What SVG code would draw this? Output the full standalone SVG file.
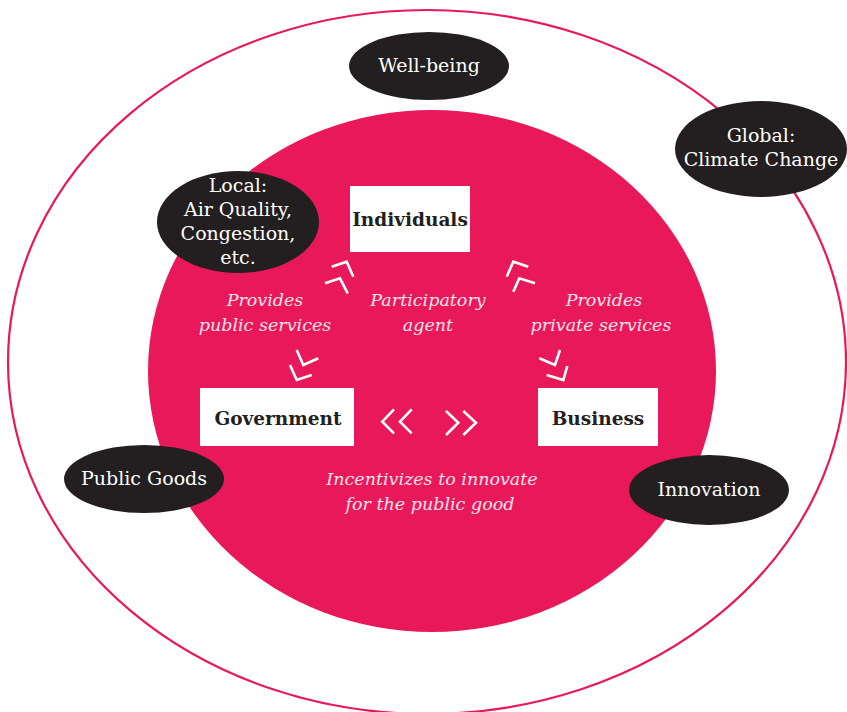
<svg xmlns="http://www.w3.org/2000/svg" width="847" height="712" viewBox="0 0 847 712">
<style>
.blob{fill:#231F20}
.bt{font-family:"DejaVu Serif","Liberation Serif",serif;font-size:19px;fill:#ffffff;text-anchor:middle}
.box{fill:#ffffff}
.bx{font-family:"DejaVu Serif","Liberation Serif",serif;font-size:18.5px;font-weight:bold;fill:#231F20;text-anchor:middle}
.it{font-family:"DejaVu Serif","Liberation Serif",serif;font-size:17.5px;font-style:italic;fill:#fde3ec;text-anchor:middle}
.chev{fill:none;stroke:#ffffff;stroke-width:2.6}
</style>
<rect width="847" height="712" fill="#ffffff"/>
<ellipse cx="427" cy="362" rx="419" ry="352" fill="none" stroke="#E8185A" stroke-width="2.2"/>
<ellipse cx="432" cy="371" rx="284" ry="261" fill="#E8185A"/>

<g id="well-being"><ellipse class="blob" cx="429" cy="66" rx="80" ry="34"/><text class="bt" x="429" y="72">Well-being</text></g>
<g id="global"><ellipse class="blob" cx="761" cy="149" rx="86" ry="48"/><text class="bt" x="761" y="142">Global:</text><text class="bt" x="761" y="166">Climate Change</text></g>
<g id="local"><ellipse class="blob" cx="238" cy="222" rx="81" ry="51"/><text class="bt" x="238" y="192">Local:</text><text class="bt" x="238" y="216">Air Quality,</text><text class="bt" x="238" y="240">Congestion,</text><text class="bt" x="238" y="264">etc.</text></g>
<g id="public-goods"><ellipse class="blob" cx="144" cy="479" rx="80" ry="34"/><text class="bt" x="144" y="485">Public Goods</text></g>
<g id="innovation"><ellipse class="blob" cx="709" cy="490" rx="80" ry="35"/><text class="bt" x="709" y="496">Innovation</text></g>

<g id="individuals"><rect class="box" x="350" y="186" width="120" height="66"/><text class="bx" x="410" y="226">Individuals</text></g>
<g id="government"><rect class="box" x="200" y="388" width="154" height="58"/><text class="bx" x="278" y="425">Government</text></g>
<g id="business"><rect class="box" x="538" y="388" width="120" height="58"/><text class="bx" x="598" y="425">Business</text></g>

<g id="connectors">
<polyline class="chev" points="331.7,266.7 346.7,261.7 353.3,276.7"/>
<polyline class="chev" points="325,283.3 340,278.3 347.7,293.3"/>
<polyline class="chev" points="506.7,276.7 513.3,261.7 528.3,266.7"/>
<polyline class="chev" points="513.3,291.7 519.3,278.3 535,283.3"/>
<polyline class="chev" points="296.7,350 303.3,365 318.3,358.3"/>
<polyline class="chev" points="290,365 296.7,380 311.7,375"/>
<polyline class="chev" points="539.3,358.3 555,365 560,350"/>
<polyline class="chev" points="546.7,375 563.3,380 567.3,366"/>
<polyline class="chev" points="394,409.3 382.3,421.7 394,433.3"/>
<polyline class="chev" points="411.7,409.3 400,421.7 411.7,433.3"/>
<polyline class="chev" points="446,411 458.3,422.7 446,435"/>
<polyline class="chev" points="463.3,411 476,422.7 463.3,435"/>
</g>

<g id="labels">
<text class="it" x="265" y="306">Provides</text>
<text class="it" x="265" y="331">public services</text>
<text class="it" x="428" y="306">Participatory</text>
<text class="it" x="428" y="331">agent</text>
<text class="it" x="604" y="306">Provides</text>
<text class="it" x="601" y="331">private services</text>
<text class="it" x="432" y="485">Incentivizes to innovate</text>
<text class="it" x="430" y="510">for the public good</text>
</g>
</svg>
